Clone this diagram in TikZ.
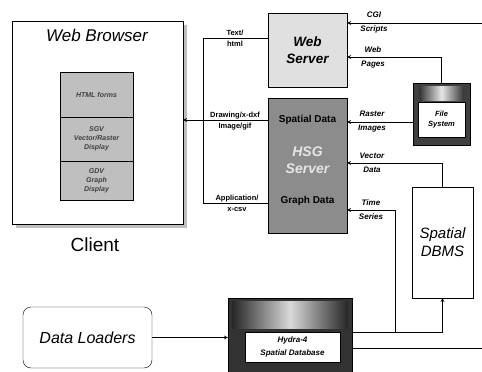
\documentclass[tikz,border=0pt]{standalone}
\usepackage{fontspec}
\setmainfont{Liberation Sans}
\usetikzlibrary{arrows,shapes}
\usetikzlibrary{shadings,shadows}
\tikzstyle{box}=[draw,thin,inner sep=0pt]
\tikzstyle{stack}=[box,fill=black!25,minimum width=73pt,align=center,text=black!75,font=\bfseries\itshape\fontsize{7}{9}\selectfont]
\tikzstyle{edge} = [draw,line width=0.7pt,->]
\tikzstyle{plainedge} = [draw,line width=0.7pt]
\tikzstyle{weight} = [align=center,inner sep=0pt,font=\bfseries\itshape\fontsize{8}{14}\selectfont]
\tikzstyle{mime} = [align=center,inner sep=0pt,font=\bfseries\fontsize{7.5}{11}\selectfont]

\begin{document}
\begin{tikzpicture}[x=1pt,y=-1pt,>=stealth]
    \useasboundingbox (0,0) rectangle (482,372);
    % Client side: the browser and its three panes
    \node[box,fill=white,minimum width=171pt,minimum height=203pt,
          drop shadow={shadow xshift=4pt,shadow yshift=-4pt,opacity=1,fill=black!25}] (browser) at (97.5,122.5) {};
    \node[font=\itshape\fontsize{17}{20}\selectfont] (title) at (97,35) {Web Browser};
    \foreach \pos/\name/\h/\txt in {{(96.5,94.5)/html/45/{HTML forms}},
    {(96.5,139)/sgv/44/{SGV\\Vector/Raster\\Display}},
    {(96.5,180.5)/gdv/39/{GDV\\Graph\\Display}}}
        \node[stack,minimum height=\h] (\name) at \pos {\txt};
    \node[font=\fontsize{19}{22}\selectfont] (client) at (95,245) {Client};
    \node[box,rounded corners=8pt,minimum width=129pt,minimum height=61pt,
          font=\itshape\fontsize{16}{19}\selectfont] (loaders) at (87.5,337.5) {Data Loaders};

    % Servers
    \node[box,fill=black!12,minimum width=79pt,minimum height=74pt,align=center,
          font=\bfseries\itshape\fontsize{13.5}{17}\selectfont] (web) at (307.5,50) {Web\\Server};
    \node[box,fill=black!45,minimum width=79pt,minimum height=135pt] (hsg) at (307.5,165.5) {};
    \node[font=\bfseries\fontsize{10}{12}\selectfont] (spatialdata) at (307.5,120) {Spatial Data};
    \node[align=center,text=black!10,font=\bfseries\itshape\fontsize{14}{17}\selectfont] (hsgname) at (307.5,160) {HSG\\Server};
    \node[font=\bfseries\fontsize{10}{12}\selectfont] (graphdata) at (307.5,201) {Graph Data};

    % Storage
    \node[box,fill=black!75,minimum width=57pt,minimum height=62pt] (filesys) at (441.5,114) {};
    \shade[left color=black!80,right color=black!80,middle color=black!10] (419,86) rectangle (464,100);
    \node[box,fill=white,minimum width=47pt,minimum height=35pt,align=center,
          font=\bfseries\itshape\fontsize{7.5}{10}\selectfont] (fsname) at (441.5,119.5) {File\\System};
    \node[box,minimum width=61pt,minimum height=111pt,align=center,
          font=\itshape\fontsize{15}{18}\selectfont] (dbms) at (442.5,242.5) {Spatial\\DBMS};
    \node[box,fill=black!80,minimum width=124pt,minimum height=74pt] (hydra) at (290,335) {};
    \shade[left color=black!85,right color=black!85,middle color=black!15] (232,301) rectangle (348,328);
    \node[box,fill=white,minimum width=95pt,minimum height=30pt,align=center,
          font=\bfseries\itshape\fontsize{8}{13}\selectfont] (hydraname) at (292.5,347) {Hydra-4\\Spatial Database};

    % Bends of the connectors
    \coordinate (jtop) at (203,38);
    \coordinate (jbot) at (203,203);
    \coordinate (cgi) at (482,23);
    \coordinate (wp) at (441.5,57);
    \coordinate (ri) at (441.5,122);
    \coordinate (vd) at (442.5,163);
    \coordinate (tsfoot) at (395,332);
    \coordinate (tstop) at (395,210);
    \coordinate (out) at (482,348);

    % Connectors
    \path[plainedge] (web.west |- jtop) -- (jtop) -- (jbot) -- (hsg.west |- jbot);
    \path[edge] (hsg.west |- spatialdata) -- (browser.east |- spatialdata);
    \path[edge] (cgi) -- (web.east |- cgi);
    \path[edge] (filesys.north) -- (wp) -- (web.east |- wp);
    \path[edge] (filesys.west |- ri) -- (hsg.east |- ri);
    \path[edge] (dbms.north) -- (vd) -- (hsg.east |- vd);
    \path[edge] (hydra.east |- tsfoot) -| (dbms.south);
    \path[edge] (tsfoot) -- (tstop) -- (hsg.east |- tstop);
    \path[plainedge] (hydra.east |- out) -- (out);
    \path[edge] (loaders.east) -- (hydra.west |- loaders.east);

    % Labels on the connectors
    \foreach \pos/\name/\txt in {{(374,23)/cgilbl/{CGI\\Scripts}}, {(373,57)/wplbl/{Web\\Pages}},
    {(372,122)/rilbl/{Raster\\Images}}, {(372,163)/vdlbl/{Vector\\Data}}, {(371,210)/tslbl/{Time\\Series}}}
        \node[weight] (\name) at \pos {\txt};
    \foreach \pos/\name/\txt in {{(235,38)/txtlbl/{Text/\\html}}, {(235,121)/imglbl/{Drawing/x-dxf\\Image/gif}},
    {(237,203)/csvlbl/{Application/\\x-csv}}}
        \node[mime] (\name) at \pos {\txt};
\end{tikzpicture}
\end{document}
